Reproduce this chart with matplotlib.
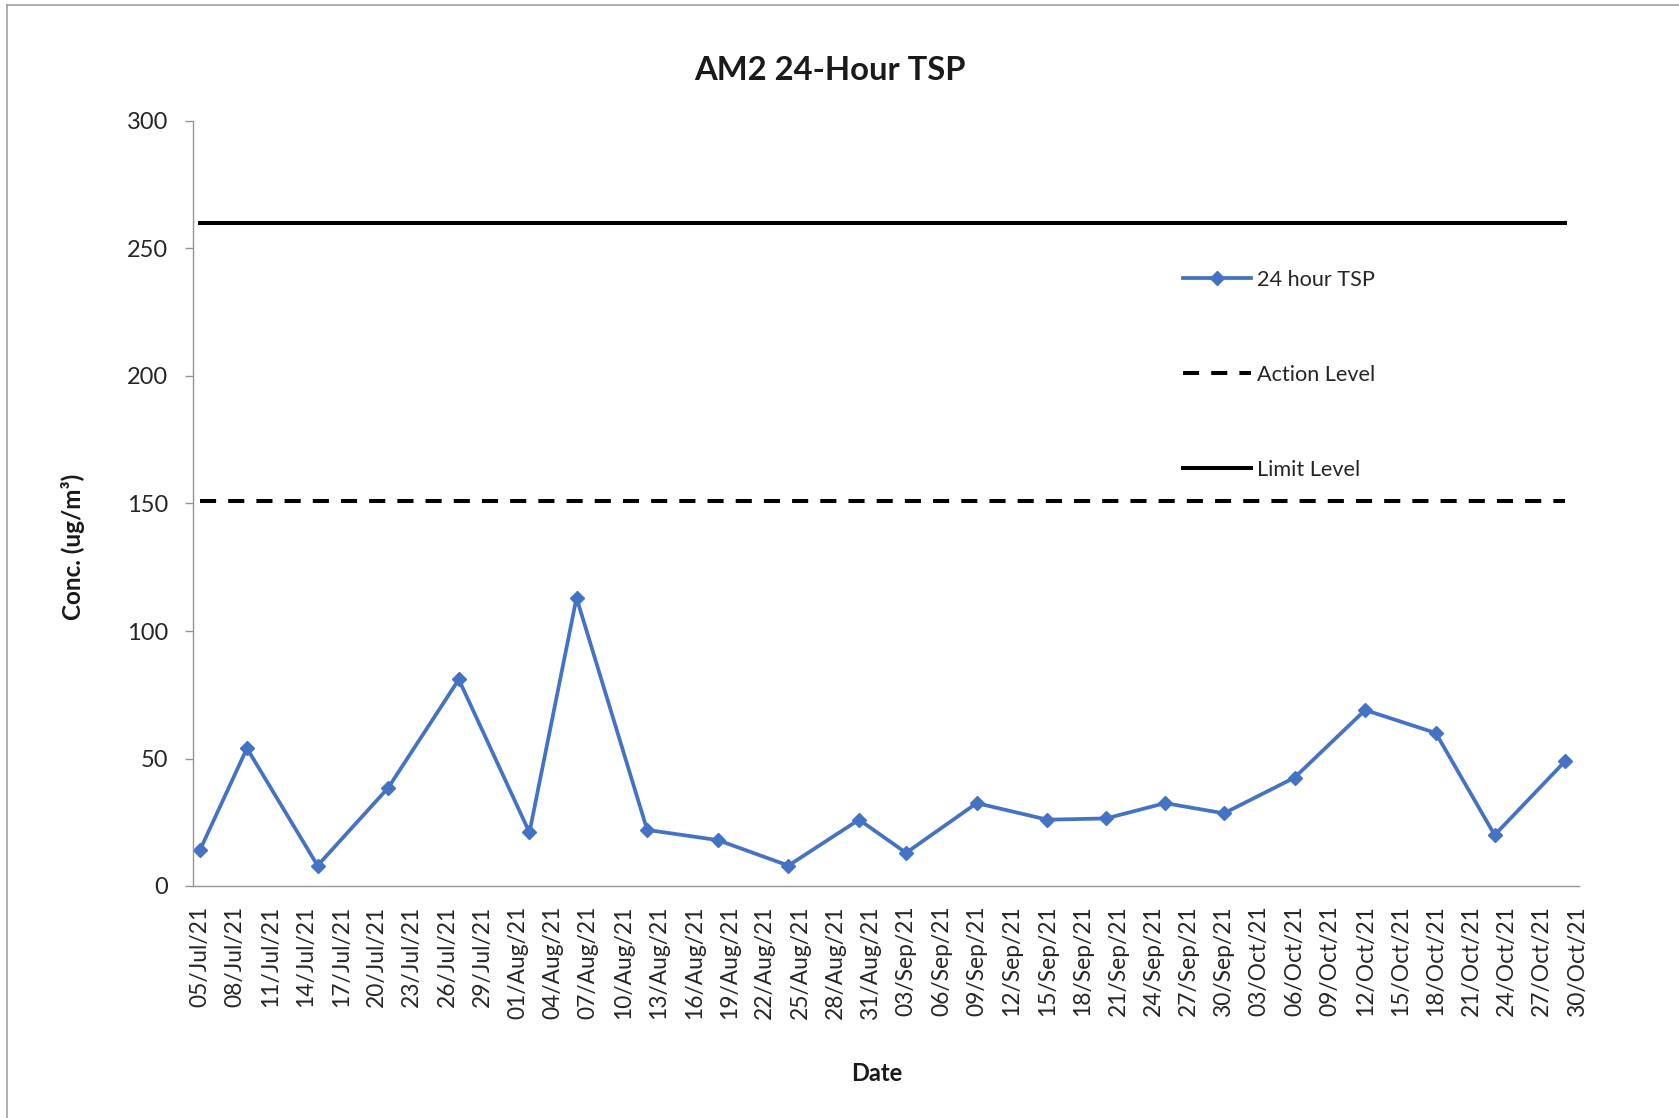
from matplotlib import pyplot as plt
from matplotlib.lines import Line2D
import matplotlib.dates as mdates
import numpy as np
import pandas as pd

plt.rcParams['font.family'] = ['Lato', 'DejaVu Sans']

dates = ['2021-07-05', '2021-07-09', '2021-07-15', '2021-07-21', '2021-07-27',
         '2021-08-02', '2021-08-06', '2021-08-12', '2021-08-18', '2021-08-24',
         '2021-08-30', '2021-09-03', '2021-09-09', '2021-09-15', '2021-09-20',
         '2021-09-25', '2021-09-30', '2021-10-06', '2021-10-12', '2021-10-18',
         '2021-10-23', '2021-10-29']
tsp = [14, 54, 8, 38.5, 81, 21, 113, 22, 18, 8, 26, 13, 32.5, 26, 26.5,
       32.5, 28.5, 42.5, 69, 60, 20, 49]
action_level = 151
limit_level = 260

dates = pd.to_datetime(dates)
tick_dates = pd.date_range('2021-07-05', '2021-10-30', freq='3D')

W, H = 1679, 1118
fig = plt.figure(figsize=(W / 100, H / 100), dpi=100)
ax = fig.add_axes([193 / W, 1 - 886 / H, (1579 - 193) / W, (886 - 121) / H])

blue = '#4472C4'
ax.plot(dates, tsp, color=blue, lw=2.7, marker='D', ms=7.5, label='24 hour TSP')
ax.plot([dates[0], dates[-1]], [action_level, action_level], color='black',
        lw=2.9, ls=(0, (4, 3)), label='Action Level')
ax.plot([dates[0], dates[-1]], [limit_level, limit_level], color='black',
        lw=2.9, label='Limit Level')

ax.set_ylim(0, 300)
ax.set_yticks(np.arange(0, 301, 50))
ax.set_xlim(tick_dates[0] - pd.Timedelta(hours=14), tick_dates[-1] + pd.Timedelta(hours=4))
ax.set_xticks(tick_dates)
ax.xaxis.set_major_formatter(mdates.DateFormatter('%d/%b/%y'))

for s in ['top', 'right']:
    ax.spines[s].set_visible(False)
for s in ['left', 'bottom']:
    ax.spines[s].set_color('#969696')
    ax.spines[s].set_linewidth(1.0)
ax.tick_params(axis='y', length=6, width=1.0, color='#969696', pad=12,
               labelsize=17, labelcolor='#262626')
ax.tick_params(axis='x', length=0, pad=14, labelsize=16.4, labelcolor='#262626',
               labelrotation=90)

ax.set_ylabel('Conc. (ug/m³)', fontsize=17.5, fontweight='bold', color='#1a1a1a')
ax.yaxis.set_label_coords((85 - 193) / 1386, (886 - 547) / 765)
ax.set_xlabel('Date', fontsize=17, fontweight='bold', color='#1a1a1a')
ax.xaxis.set_label_coords((877 - 193) / 1386, (886 - 1062) / 765)

fig.text(830 / W, 1 - 71 / H, 'AM2 24-Hour TSP', fontsize=23.6, fontweight='bold',
         ha='center', va='center', color='#1a1a1a')

leg = ax.legend(loc='upper left', bbox_to_anchor=(1183 / W, 1 - 270 / H),
                bbox_transform=fig.transFigure, frameon=False, fontsize=15.6,
                labelspacing=3.45, handlelength=3.15, handletextpad=0.27,
                borderpad=0, borderaxespad=0, numpoints=1)
for t in leg.get_texts():
    t.set_color('#262626')

# grey frame round the picture (cut at right and bottom)
fig.add_artist(Line2D([7 / W, 7 / W], [0, 1 - 5 / H], transform=fig.transFigure,
                      color='#a0a0a0', lw=1.2))
fig.add_artist(Line2D([7 / W, 1], [1 - 5 / H, 1 - 5 / H], transform=fig.transFigure,
                      color='#a0a0a0', lw=1.2))

plt.savefig('out.png', dpi=100)
